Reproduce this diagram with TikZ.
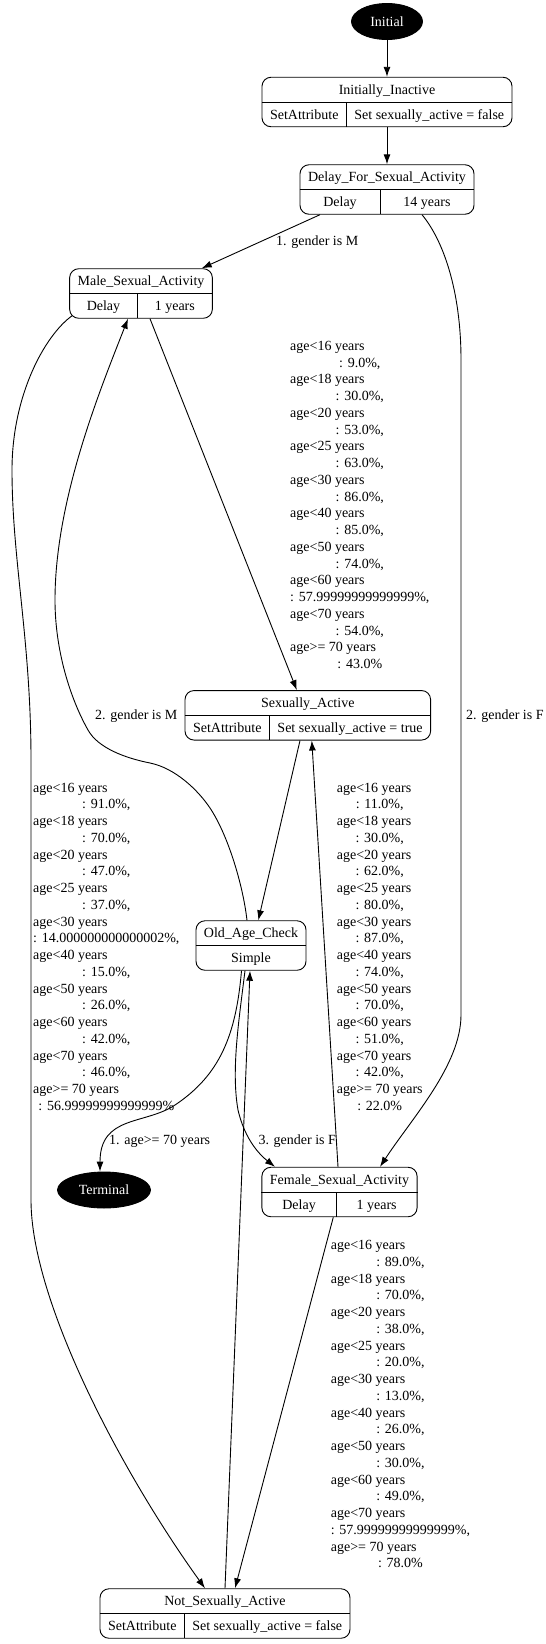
\documentclass[tikz,border=0pt]{standalone}
\usepackage{fontspec}
\setmainfont{Liberation Serif}
\usetikzlibrary{arrows.meta,calc,shapes.geometric}
\newcommand\agl[1]{\multicolumn{1}{@{}l@{}}{#1}}
\newcommand\recnode[8]{%
  \node[recbox, minimum width=#4pt] (#1) at (#2,#3) {};
  \draw[divline] (#1.west) -- (#1.east);
  \draw[divline] (#5,#3) -- (#5,{#3+24.75});
  \node[anchor=base] (#1-t) at (#2,{#3-12.4+4.7}) {#6};
  \node[anchor=base] (#1-l) at ({(#2-#4/2+#5)/2},{#3+12.4+4.7}) {#7};
  \node[anchor=base] (#1-r) at ({(#2+#4/2+#5)/2},{#3+12.4+4.7}) {#8};
}
\begin{document}
\begin{tikzpicture}[x=1pt,y=-1pt,
  every node/.style={font=\fontsize{14}{16.75}\selectfont, inner sep=0pt},
  recbox/.style={draw, rounded corners=9pt, line width=0.9pt, minimum height=49.5pt},
  divline/.style={line width=0.9pt},
  term/.style={ellipse, draw, fill=black, text=white, line width=0.9pt, minimum height=36pt},
  conn/.style={draw, line width=0.9pt, -{Latex[length=10pt,width=7pt]}},
  lbl/.style={anchor=base west}
]
\useasboundingbox (0,0) rectangle (546,1644);

% nodes
\node[term, minimum width=71pt] (initial) at (387,21.5) {Initial};
\recnode{ii}{387}{102}{250}{346.5}{Initially\_Inactive}{SetAttribute}{Set sexually\_active = false}
\recnode{delay}{387}{189.5}{174}{380}{Delay\_For\_Sexual\_Activity}{Delay}{14 years}
\recnode{male}{141}{293.5}{142.7}{137.3}{Male\_Sexual\_Activity}{Delay}{1 years}
\recnode{sa}{307.8}{715.3}{245.6}{269.5}{Sexually\_Active}{SetAttribute}{Set sexually\_active = true}
\node[recbox, minimum width=110pt] (old) at (251,945.5) {};
\draw[divline] (old.west) -- (old.east);
\node[anchor=base] (old-t) at (251,{945.5-12.4+4.7}) {Old\_Age\_Check};
\node[anchor=base] (old-b) at (251,{945.5+12.4+4.7}) {Simple};
\node[term, minimum width=93pt] (term) at (104,1190) {Terminal};
\recnode{female}{339.5}{1192}{155.2}{336.2}{Female\_Sexual\_Activity}{Delay}{1 years}
\recnode{notsa}{225}{1613.5}{250}{184.5}{Not\_Sexually\_Active}{SetAttribute}{Set sexually\_active = false}

% connectors
\draw[conn] (initial.south) -- (ii.north);
\draw[conn] (ii.south) -- (delay.north);
\draw[conn] ($(delay.south)+(-67,0)$) -- ($(male.north)+(60.7,0)$);
\draw[conn] ($(delay.south)+(35,0)$) .. controls (443,240) and (461,290) .. (461,360)
   -- (461,1015) .. controls (461,1065) and (412,1118) .. ($(female.north)+(40.5,0)$);
\draw[conn] ($(male.south)+(9,0)$) -- ($(sa.north)+(-11,0)$);
\draw[conn] ($(male.south west)+(3,-3)$) .. controls (45,335) and (12,395) .. (12,470)
   .. controls (12,560) and (31,640) .. (31,760) -- (31,1200)
   .. controls (31,1300) and (120,1470) .. ($(notsa.north)+(-20,0)$);
\draw[conn] ($(sa.south)+(-7.8,0)$) -- ($(old.north)+(7.3,0)$);
\draw[conn] ($(old.north)+(-4,0)$) .. controls (243,885) and (228,835) .. (210,808)
   .. controls (198,790) and (175,768) .. (150,763)
   .. controls (125,758) and (98,748) .. (88,730)
   .. controls (70,698) and (55,650) .. (55,600)
   .. controls (55,500) and (100,390) .. ($(male.south)+(-13,0)$);
\draw[conn] ($(old.south)+(-9.5,0)$) .. controls (236,1035) and (220,1075) .. (175,1105)
   .. controls (145,1125) and (100,1115) .. ($(term.north)+(-4,0)$);
\draw[conn] ($(old.south)+(-6,0)$) .. controls (239,1020) and (231,1070) .. (238,1110)
   .. controls (245,1140) and (260,1155) .. ($(female.north)+(-64.5,0)$);
\draw[conn] ($(female.north)+(-1.5,0)$) -- ($(sa.south)+(4,0)$);
\draw[conn] ($(female.south)+(-6.2,0)$) -- ($(notsa.north)+(10,0)$);
\draw[conn] (notsa.north) -- ($(old.south)+(-1,0)$);

% labels
\node[lbl] (l-dm) at (276,245.7) {1. gender is M};
\node[lbl] (l-df) at (466,719.7) {2. gender is F};
\node[lbl] (l-om) at (95,719.7) {2. gender is M};
\node[lbl] (l-ot) at (109,1144.7) {1. age>= 70 years};
\node[lbl] (l-of) at (258.3,1144.7) {3. gender is F};

\node[lbl] (l-msa) at (290,350.4) {\begin{tabular}[t]{@{}c@{}}
\agl{age<16 years}\\ : 9.0\%,\\ \agl{age<18 years}\\ : 30.0\%,\\
\agl{age<20 years}\\ : 53.0\%,\\ \agl{age<25 years}\\ : 63.0\%,\\
\agl{age<30 years}\\ : 86.0\%,\\ \agl{age<40 years}\\ : 85.0\%,\\
\agl{age<50 years}\\ : 74.0\%,\\ \agl{age<60 years}\\ : 57.99999999999999\%,\\
\agl{age<70 years}\\ : 54.0\%,\\ \agl{age>= 70 years}\\ : 43.0\%
\end{tabular}};

\node[lbl] (l-mnsa) at (33,792) {\begin{tabular}[t]{@{}c@{}}
\agl{age<16 years}\\ : 91.0\%,\\ \agl{age<18 years}\\ : 70.0\%,\\
\agl{age<20 years}\\ : 47.0\%,\\ \agl{age<25 years}\\ : 37.0\%,\\
\agl{age<30 years}\\ : 14.000000000000002\%,\\ \agl{age<40 years}\\ : 15.0\%,\\
\agl{age<50 years}\\ : 26.0\%,\\ \agl{age<60 years}\\ : 42.0\%,\\
\agl{age<70 years}\\ : 46.0\%,\\ \agl{age>= 70 years}\\ : 56.99999999999999\%
\end{tabular}};

\node[lbl] (l-fsa) at (336.7,792) {\begin{tabular}[t]{@{}c@{}}
\agl{age<16 years}\\ : 11.0\%,\\ \agl{age<18 years}\\ : 30.0\%,\\
\agl{age<20 years}\\ : 62.0\%,\\ \agl{age<25 years}\\ : 80.0\%,\\
\agl{age<30 years}\\ : 87.0\%,\\ \agl{age<40 years}\\ : 74.0\%,\\
\agl{age<50 years}\\ : 70.0\%,\\ \agl{age<60 years}\\ : 51.0\%,\\
\agl{age<70 years}\\ : 42.0\%,\\ \agl{age>= 70 years}\\ : 22.0\%
\end{tabular}};

\node[lbl] (l-fnsa) at (330.7,1249.7) {\begin{tabular}[t]{@{}c@{}}
\agl{age<16 years}\\ : 89.0\%,\\ \agl{age<18 years}\\ : 70.0\%,\\
\agl{age<20 years}\\ : 38.0\%,\\ \agl{age<25 years}\\ : 20.0\%,\\
\agl{age<30 years}\\ : 13.0\%,\\ \agl{age<40 years}\\ : 26.0\%,\\
\agl{age<50 years}\\ : 30.0\%,\\ \agl{age<60 years}\\ : 49.0\%,\\
\agl{age<70 years}\\ : 57.99999999999999\%,\\ \agl{age>= 70 years}\\ : 78.0\%
\end{tabular}};
\end{tikzpicture}
\end{document}
